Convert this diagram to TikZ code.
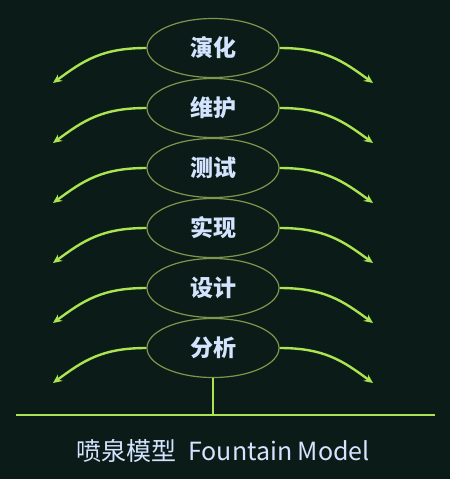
\documentclass[tikz,border=0pt]{standalone}
\usepackage{fontspec}
\setmainfont{Noto Sans}
\newfontfamily\cjk{Noto Sans CJK SC}
\usetikzlibrary{shapes.geometric,arrows.meta}
\definecolor{bg}{RGB}{11,27,24}
\definecolor{jet}{RGB}{170,228,80}
\definecolor{rim}{RGB}{125,150,75}
\definecolor{ink}{RGB}{212,228,255}
\tikzset{
	stage/.style={ellipse, draw=rim, line width=1.2pt, minimum width=132pt, minimum height=59pt, inner sep=0pt, text=ink, font=\cjk\bfseries\fontsize{23}{23}\selectfont},
	spray/.style={jet, line width=2.4pt, -{Stealth[length=9pt,width=8pt]}}
}
\begin{document}
\begin{tikzpicture}[x=1pt,y=-1pt]
\fill[bg] (0,0) rectangle (450,479);
\useasboundingbox (0,0) rectangle (450,479);

\node[stage] (S6) at (213,348) {分析};
\node[stage] (S5) at (213,288) {设计};
\node[stage] (S4) at (213,228) {实现};
\node[stage] (S3) at (213,168) {测试};
\node[stage] (S2) at (213,108) {维护};
\node[stage] (S1) at (213,48) {演化};

\foreach \s in {S1, S2, S3, S4, S5, S6}{
	\coordinate (\s L) at ([shift={(-160,35)}]\s.center);
	\coordinate (\s R) at ([shift={(160,35)}]\s.center);
	\draw[spray] (\s.west) .. controls +(-45,0) and +(30,-22) .. (\s L);
	\draw[spray] (\s.east) .. controls +(45,0) and +(-30,-22) .. (\s R);
}

\coordinate (G) at (213,415);
\coordinate (GL) at (16,415);
\coordinate (GR) at (435,415);
\draw[jet, line width=2.4pt] (S6.south) -- (G) (GL) -- (GR);
\node[text=ink, font=\fontsize{25}{25}\selectfont] (T) at (223,451) {\cjk 喷泉模型\hspace{12pt}Fountain Model};
\end{tikzpicture}
\end{document}
